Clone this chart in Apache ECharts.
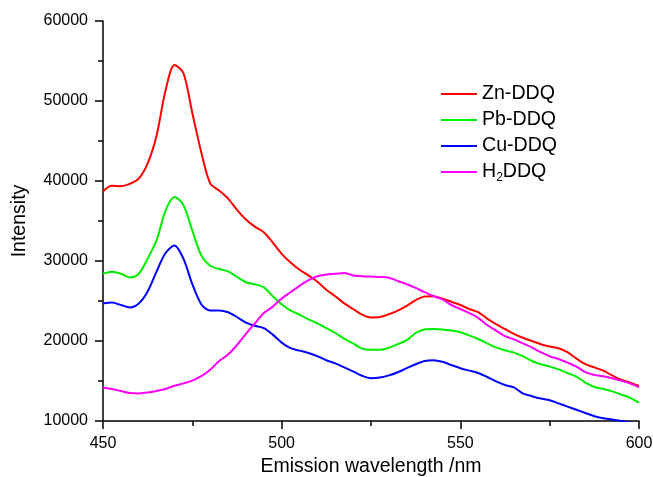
<!DOCTYPE html>
<html>
<head>
<meta charset="utf-8">
<script src="https://cdn.jsdelivr.net/npm/echarts@6/dist/echarts.min.js"></script>
<style>
  html, body { margin: 0; padding: 0; background: #fff; }
  #chart { width: 653px; height: 477px; }
</style>
</head>
<body>
<div id="chart"></div>
<script>
// wavelength grid (nm), one value every 2.5 nm
var wavelengths = [];
for (var w = 450; w <= 600; w += 2.5) wavelengths.push(w);

var znDDQ = [
  38700, 39400, 39350, 39650, 40300, 42200, 45700, 51300, 54500, 53500,
  48500, 43600, 39700, 38800, 37800, 36400, 35200, 34300, 33600, 32300,
  30900, 29800, 28900, 28200, 27400, 26400, 25600, 24700, 24000, 23300,
  22950, 23000, 23350, 23800, 24400, 25100, 25550, 25600, 25300, 24900,
  24500, 24000, 23600, 22800, 22100, 21500, 20900, 20400, 20000, 19600,
  19300, 19100, 18600, 17800, 17100, 16700, 16300, 15700, 15150, 14800,
  14400
];
var pbDDQ = [
  28400, 28650, 28400, 27950, 28400, 30300, 32600, 36300, 38000, 37000,
  33800, 30700, 29400, 29000, 28700, 28000, 27350, 27100, 26700, 25600,
  24600, 23800, 23300, 22700, 22200, 21600, 21000, 20300, 19700, 19050,
  18900, 18900, 19150, 19600, 20100, 21000, 21450, 21500, 21450, 21300,
  21100, 20700, 20250, 19700, 19200, 18850, 18550, 18100, 17500, 17100,
  16800, 16450, 16000, 15550, 14800, 14250, 14000, 13700, 13300, 12900,
  12300
];
var cuDDQ = [
  24700, 24800, 24500, 24200, 24700, 26200, 28700, 31000, 31950, 30300,
  27100, 24600, 23800, 23800, 23600, 23000, 22300, 21900, 21600, 20800,
  19800, 19100, 18800, 18500, 18100, 17600, 17200, 16700, 16200, 15650,
  15350, 15450, 15700, 16100, 16600, 17100, 17500, 17600, 17400, 17000,
  16600, 16300, 16000, 15500, 14950, 14500, 14200, 13450, 13100, 12800,
  12600, 12200, 11800, 11400, 11000, 10600, 10350, 10200, 10000, 9800,
  9600
];
var h2DDQ = [
  14200, 14000, 13750, 13500, 13450, 13550, 13750, 14000, 14400, 14700,
  15050, 15600, 16400, 17500, 18300, 19500, 20900, 22200, 23500, 24300,
  25300, 26100, 26900, 27600, 28100, 28300, 28400, 28500, 28200, 28100,
  28050, 28000, 27900, 27500, 27100, 26650, 26100, 25600, 25200, 24500,
  24000, 23500, 22900, 22000, 21300, 20600, 20200, 19700, 19200, 18600,
  18100, 17750, 17300, 16800, 16100, 15750, 15600, 15350, 15050, 14700,
  14200
];

var seriesNames = ['Zn-DDQ', 'Pb-DDQ', 'Cu-DDQ', 'H2DDQ'];
var seriesColors = ['#ff0000', '#00ee00', '#0000ff', '#ff00ff'];
var seriesValues = [znDDQ, pbDDQ, cuDDQ, h2DDQ];

var font = 'Liberation Sans, Arial, sans-serif';

function pairs(ys) {
  return wavelengths.map(function (x, i) { return [x, ys[i]]; });
}

var chart = echarts.init(document.getElementById('chart'), null, { renderer: 'canvas' });

chart.setOption({
  animation: false,
  backgroundColor: '#fff',
  grid: { left: 103, right: 14, top: 21, bottom: 56, outerBoundsMode: 'none', containLabel: false },
  legend: {
    orient: 'vertical',
    left: 441,
    top: 84,
    padding: 0,
    itemWidth: 36,
    itemHeight: 2,
    itemGap: 6,
    icon: 'rect',
    data: seriesNames,
    textStyle: {
      fontFamily: font,
      fontSize: 19.6,
      color: '#000',
      rich: {
        sub: { fontFamily: font, fontSize: 12, color: '#000', padding: [11, 0, 0, 0] }
      }
    },
    formatter: function (name) {
      return name === 'H2DDQ' ? 'H{sub|2}DDQ' : name;
    }
  },
  xAxis: {
    type: 'value',
    min: 450,
    max: 600,
    interval: 50,
    name: 'Emission wavelength /nm',
    nameLocation: 'middle',
    nameGap: 35,
    nameTextStyle: { fontFamily: font, fontSize: 19.5, color: '#000' },
    axisLine: { lineStyle: { color: '#000', width: 1.5 } },
    axisTick: { inside: false, length: 8, lineStyle: { color: '#000', width: 1.5 } },
    minorTick: { show: true, splitNumber: 2, length: 5, lineStyle: { color: '#000', width: 1.5 } },
    axisLabel: { fontFamily: font, fontSize: 16, color: '#000', margin: 15 },
    splitLine: { show: false }
  },
  yAxis: {
    type: 'value',
    min: 10000,
    max: 60000,
    interval: 10000,
    name: 'Intensity',
    nameLocation: 'middle',
    nameGap: 73,
    nameTextStyle: { fontFamily: font, fontSize: 19.5, color: '#000' },
    axisLine: { show: true, lineStyle: { color: '#000', width: 1.5 } },
    axisTick: { show: true, inside: false, length: 8, lineStyle: { color: '#000', width: 1.5 } },
    minorTick: { show: true, splitNumber: 2, length: 5, lineStyle: { color: '#000', width: 1.5 } },
    axisLabel: {
      fontFamily: font, fontSize: 16, color: '#000', margin: 15,
      formatter: function (v) { return String(v); }
    },
    splitLine: { show: false }
  },
  series: seriesNames.map(function (name, i) {
    return {
      name: name,
      type: 'line',
      data: pairs(seriesValues[i]),
      showSymbol: false,
      smooth: 0.3,
      clip: true,
      color: seriesColors[i],
      lineStyle: { color: seriesColors[i], width: 2 }
    };
  })
});
</script>
</body>
</html>
